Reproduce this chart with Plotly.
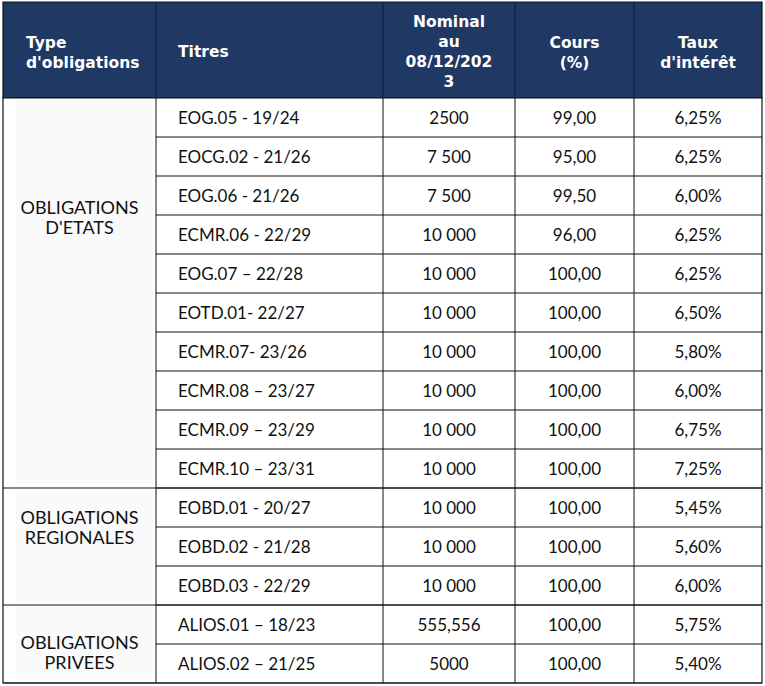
import plotly.graph_objects as go

# table content
headers = ["Type<br>d'obligations", "Titres", "Nominal<br>au<br>08/12/202<br>3", "Cours<br>(%)", "Taux<br>d'intérêt"]
groups = [["OBLIGATIONS", "D'ETATS"], ["OBLIGATIONS", "REGIONALES"], ["OBLIGATIONS", "PRIVEES"]]
group_sizes = [10, 3, 2]
titres = ["EOG.05 - 19/24", "EOCG.02 - 21/26", "EOG.06 - 21/26", "ECMR.06 - 22/29",
          "EOG.07 – 22/28", "EOTD.01- 22/27", "ECMR.07- 23/26", "ECMR.08 – 23/27",
          "ECMR.09 – 23/29", "ECMR.10 – 23/31", "EOBD.01 - 20/27", "EOBD.02 - 21/28",
          "EOBD.03 - 22/29", "ALIOS.01 – 18/23", "ALIOS.02 – 21/25"]
nominal = ["2500", "7 500", "7 500", "10 000", "10 000", "10 000", "10 000", "10 000",
           "10 000", "10 000", "10 000", "10 000", "10 000", "555,556", "5000"]
cours = ["99,00", "95,00", "99,50", "96,00", "100,00", "100,00", "100,00", "100,00",
         "100,00", "100,00", "100,00", "100,00", "100,00", "100,00", "100,00"]
taux = ["6,25%", "6,25%", "6,00%", "6,25%", "6,25%", "6,50%", "5,80%", "6,00%",
        "6,75%", "7,25%", "5,45%", "5,60%", "6,00%", "5,75%", "5,40%"]

# layout of the grid (pixels)
col_x = [3, 156, 383, 515, 634, 762]
head_top = 2
head_bot = 98
row_h = 39
label_offset = [3.05, 1.0, 1.2]   # where the group label sits, in rows from group top
label_gap = 20                    # line spacing inside group labels
text_dy = 2.5                     # baseline nudge for body text

navy = "#1F3864"
ink = "#111111"
body_font = "Lato"
head_font = "DejaVu Sans"

fig = go.Figure()
shapes = []

# header
shapes.append(dict(type="rect", x0=col_x[0], x1=col_x[-1], y0=head_top, y1=head_bot,
                   fillcolor=navy, line=dict(color="#111111", width=1.2), layer="below"))
for cx in col_x[1:-1]:
    shapes.append(dict(type="line", x0=cx, x1=cx, y0=head_top, y1=head_bot,
                       line=dict(color="#0d1a33", width=1)))

n = len(titres)
bottom = head_bot + n * row_h

# body outline
shapes.append(dict(type="rect", x0=col_x[0], x1=col_x[-1], y0=head_bot, y1=bottom,
                   fillcolor="white", line=dict(color="#111111", width=1.2), layer="below"))

# group cells
start = 0
for g, size in enumerate(group_sizes):
    y0 = head_bot + start * row_h
    y1 = head_bot + (start + size) * row_h
    shapes.append(dict(type="rect", x0=col_x[0] + 13, x1=col_x[1] - 3, y0=y0 + 2, y1=y1 - 4,
                       fillcolor="#FAFAFA", line=dict(width=0), layer="below"))
    shapes.append(dict(type="line", x0=col_x[0], x1=col_x[-1], y0=y1, y1=y1,
                       line=dict(color="#111111", width=1.2)))
    start += size

# row lines for the right-hand columns
for i in range(1, n):
    y = head_bot + i * row_h
    shapes.append(dict(type="line", x0=col_x[1], x1=col_x[-1], y0=y, y1=y,
                       line=dict(color="#111111", width=1)))
for cx in col_x[1:-1]:
    shapes.append(dict(type="line", x0=cx, x1=cx, y0=head_bot, y1=bottom,
                       line=dict(color="#111111", width=1)))

# header text
head_y = (head_top + head_bot) / 2
hfont = dict(family=head_font, size=15.5, color="white", weight="bold")
fig.add_trace(go.Scatter(x=[col_x[0] + 23, col_x[1] + 22], y=[head_y + 4, head_y + 3],
                         text=headers[:2], mode="text", textposition="middle right",
                         textfont=hfont, hoverinfo="skip"))
fig.add_trace(go.Scatter(x=[(col_x[k] + col_x[k + 1]) / 2 for k in range(2, 5)],
                         y=[head_y + 3, head_y + 4, head_y + 4],
                         text=headers[2:], mode="text", textposition="middle center",
                         textfont=hfont, hoverinfo="skip"))

# body text
bfont = dict(family=body_font, size=17, color=ink)
row_y = [head_bot + (i + 0.5) * row_h + text_dy for i in range(n)]
fig.add_trace(go.Scatter(x=[col_x[1] + 22] * n, y=row_y, text=titres, mode="text",
                         textposition="middle right", textfont=bfont, hoverinfo="skip"))
for k, vals in zip([2, 3, 4], [nominal, cours, taux]):
    fig.add_trace(go.Scatter(x=[(col_x[k] + col_x[k + 1]) / 2] * n, y=row_y, text=vals,
                             mode="text", textposition="middle center",
                             textfont=bfont, hoverinfo="skip"))

# group labels, one point per line
gx, gy, gt = [], [], []
start = 0
for g, size in enumerate(group_sizes):
    mid = head_bot + (start + label_offset[g]) * row_h + text_dy
    for j, line in enumerate(groups[g]):
        gx.append((col_x[0] + col_x[1]) / 2)
        gy.append(mid + (j - 0.5) * label_gap)
        gt.append(line)
    start += size
fig.add_trace(go.Scatter(x=gx, y=gy, text=gt, mode="text", textposition="middle center",
                         textfont=dict(family=body_font, size=18, color=ink), hoverinfo="skip"))

fig.update_layout(
    width=765, height=686,
    margin=dict(l=0, r=0, t=0, b=0),
    plot_bgcolor="white", paper_bgcolor="white",
    showlegend=False,
    shapes=shapes,
    xaxis=dict(range=[0, 765], visible=False, fixedrange=True),
    yaxis=dict(range=[686, 0], visible=False, fixedrange=True),
)

fig.write_html("out.html", config={"displayModeBar": False},
               post_script="document.body.style.margin='0';")
